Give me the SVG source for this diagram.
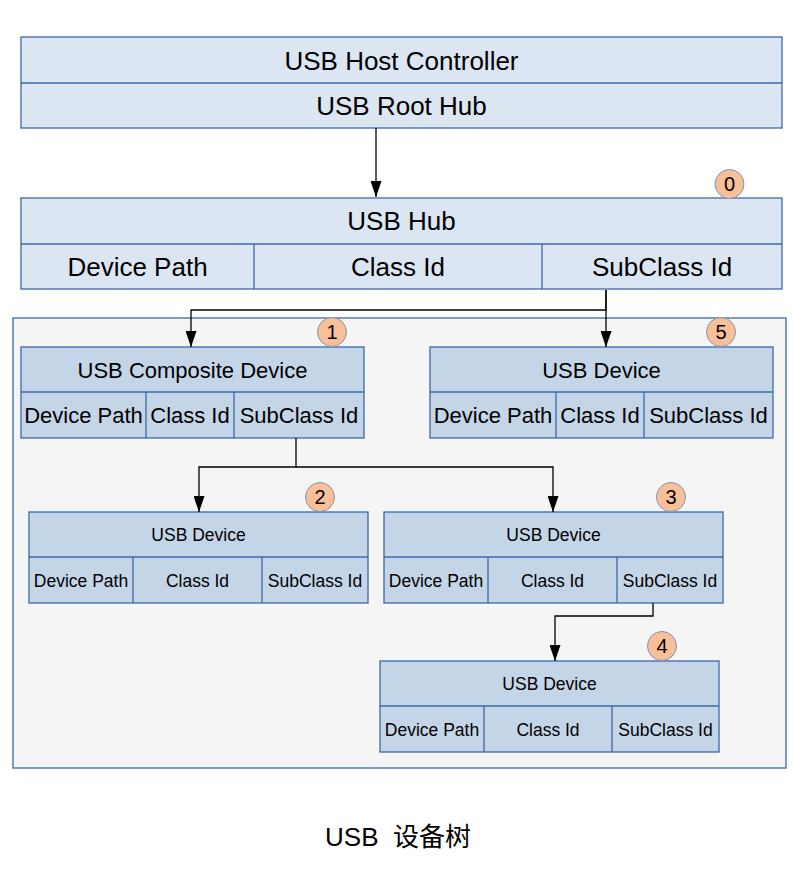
<svg xmlns="http://www.w3.org/2000/svg" width="794" height="896" viewBox="0 0 794 896">
<defs>
<marker id="arr" viewBox="0 0 16 11" refX="16" refY="5.5" markerWidth="16" markerHeight="11" markerUnits="userSpaceOnUse" orient="auto">
<path d="M0,0 L16,5.5 L0,11 Z" fill="#000"/>
</marker>
<style>
.bx1{fill:#dce6f2;stroke:#3a6aa8;stroke-width:1.3}
.bx2{fill:#c5d5e8;stroke:#3a6aa8;stroke-width:1.3}
.ln{stroke:#3a6aa8;stroke-width:1.3;fill:none}
.cn{stroke:#000;stroke-width:1.3;fill:none}
text{font-family:"Liberation Sans",Arial,sans-serif;fill:#000;text-anchor:middle}
.t26{font-size:26px}
.t22{font-size:22px}
.t17{font-size:17.5px}
.bd circle{fill:#f9bf98;stroke:#7f95b5;stroke-width:1}
.bd text{font-size:20px}
</style>
</defs>
<rect x="0" y="0" width="794" height="896" fill="#fff"/>
<rect id="container" x="13" y="318" width="773" height="450" fill="#f5f5f5" stroke="#3a6aa8" stroke-width="1.3"/>

<g id="host">
<rect class="bx1" x="21" y="37" width="761" height="91"/>
<line class="ln" x1="21" y1="83" x2="782" y2="83"/>
<text class="t26" x="401.5" y="69.5">USB Host Controller</text>
<text class="t26" x="401.5" y="115">USB Root Hub</text>
</g>

<g id="hub">
<rect class="bx1" x="21" y="198" width="761" height="91"/>
<line class="ln" x1="21" y1="244" x2="782" y2="244"/>
<line class="ln" x1="254" y1="244" x2="254" y2="289"/>
<line class="ln" x1="542" y1="244" x2="542" y2="289"/>
<text class="t26" x="401.5" y="230">USB Hub</text>
<text class="t26" x="137.5" y="275.5">Device Path</text>
<text class="t26" x="398" y="275.5">Class Id</text>
<text class="t26" x="662" y="275.5">SubClass Id</text>
</g>

<g id="composite">
<rect class="bx2" x="21" y="347" width="343" height="91"/>
<line class="ln" x1="21" y1="392" x2="364" y2="392"/>
<line class="ln" x1="146" y1="392" x2="146" y2="438"/>
<line class="ln" x1="234" y1="392" x2="234" y2="438"/>
<text class="t22" x="192.5" y="377.5">USB Composite Device</text>
<text class="t22" x="83.5" y="423">Device Path</text>
<text class="t22" x="190" y="423">Class Id</text>
<text class="t22" x="299" y="423">SubClass Id</text>
</g>

<g id="device5">
<rect class="bx2" x="430" y="347" width="343" height="91"/>
<line class="ln" x1="430" y1="392" x2="773" y2="392"/>
<line class="ln" x1="556" y1="392" x2="556" y2="438"/>
<line class="ln" x1="644" y1="392" x2="644" y2="438"/>
<text class="t22" x="601.5" y="377.5">USB Device</text>
<text class="t22" x="493" y="423">Device Path</text>
<text class="t22" x="600" y="423">Class Id</text>
<text class="t22" x="708.5" y="423">SubClass Id</text>
</g>

<g id="device2">
<rect class="bx2" x="29" y="512" width="339" height="91"/>
<line class="ln" x1="29" y1="557" x2="368" y2="557"/>
<line class="ln" x1="133" y1="557" x2="133" y2="603"/>
<line class="ln" x1="262" y1="557" x2="262" y2="603"/>
<text class="t17" x="198.5" y="541">USB Device</text>
<text class="t17" x="81" y="586.5">Device Path</text>
<text class="t17" x="197.5" y="586.5">Class Id</text>
<text class="t17" x="315" y="586.5">SubClass Id</text>
</g>

<g id="device3">
<rect class="bx2" x="384" y="512" width="339" height="91"/>
<line class="ln" x1="384" y1="557" x2="723" y2="557"/>
<line class="ln" x1="488" y1="557" x2="488" y2="603"/>
<line class="ln" x1="617" y1="557" x2="617" y2="603"/>
<text class="t17" x="553.5" y="541">USB Device</text>
<text class="t17" x="436" y="586.5">Device Path</text>
<text class="t17" x="552.5" y="586.5">Class Id</text>
<text class="t17" x="670" y="586.5">SubClass Id</text>
</g>

<g id="device4">
<rect class="bx2" x="380" y="661" width="339" height="91"/>
<line class="ln" x1="380" y1="706" x2="719" y2="706"/>
<line class="ln" x1="484" y1="706" x2="484" y2="752"/>
<line class="ln" x1="612" y1="706" x2="612" y2="752"/>
<text class="t17" x="549.5" y="690">USB Device</text>
<text class="t17" x="432" y="735.5">Device Path</text>
<text class="t17" x="548" y="735.5">Class Id</text>
<text class="t17" x="665.5" y="735.5">SubClass Id</text>
</g>

<g id="badges" class="bd">
<g id="badge0"><circle cx="729.5" cy="184" r="14.5"/><text x="729.5" y="191">0</text></g>
<g id="badge1"><circle cx="332" cy="332" r="14.5"/><text x="332" y="339">1</text></g>
<g id="badge5"><circle cx="721" cy="332" r="14.5"/><text x="721" y="339">5</text></g>
<g id="badge2"><circle cx="320" cy="497" r="14.5"/><text x="320" y="504">2</text></g>
<g id="badge3"><circle cx="671" cy="497" r="14.5"/><text x="671" y="504">3</text></g>
<g id="badge4"><circle cx="662" cy="646" r="14.5"/><text x="662" y="653">4</text></g>
</g>

<g id="connectors">
<path class="cn" d="M376,128 V197" marker-end="url(#arr)"/>
<path class="cn" d="M606,290 V310 H191 V347" marker-end="url(#arr)"/>
<path class="cn" d="M606,290 V347" marker-end="url(#arr)"/>
<path class="cn" d="M296,438 V467 H199 V512" marker-end="url(#arr)"/>
<path class="cn" d="M296,467 H553 V512" marker-end="url(#arr)"/>
<path class="cn" d="M653,603 V616 H555 V661" marker-end="url(#arr)"/>
</g>

<text x="398" y="846" style="font-family:'Liberation Sans','Noto Sans CJK SC',sans-serif;font-size:26px" xml:space="preserve">USB  设备树</text>
</svg>
